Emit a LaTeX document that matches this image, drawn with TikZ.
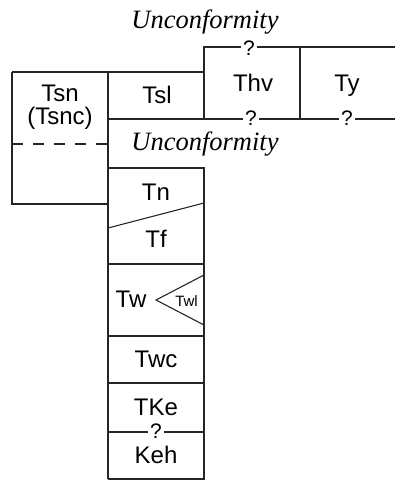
\documentclass[tikz,border=0pt]{standalone}
\usepackage{fontspec}
\setmainfont{Liberation Sans}
\newfontfamily\serifit{Liberation Serif}
\begin{document}
\begin{tikzpicture}[x=1pt,y=-1pt,
  ln/.style={line width=1.1pt, draw=black!85},
  lbl/.style={font=\fontsize{24}{25}\selectfont, inner sep=0pt, anchor=base},
  unc/.style={font=\serifit\itshape\fontsize{26.5}{27}\selectfont, inner sep=0pt, anchor=base},
  qm/.style={font=\fontsize{21}{22}\selectfont, fill=white, inner xsep=2pt, inner ysep=0pt, anchor=base},
  small/.style={font=\fontsize{15}{16}\selectfont, inner sep=0pt, anchor=base}]
\useasboundingbox (0,0) rectangle (395,481);
% coordinates
\coordinate (a1) at (12,72);
\coordinate (a2) at (108,72);
\coordinate (a3) at (204,72);
\coordinate (b1) at (204,47);
\coordinate (b2) at (300,47);
\coordinate (b3) at (395,47);
\coordinate (c1) at (108,119);
\coordinate (c2) at (204,119);
\coordinate (c3) at (300,119);
\coordinate (c4) at (395,119);
\coordinate (d1) at (12,204);
\coordinate (d2) at (108,204);
% upper row
\draw[ln] (a1) -- (a3) -- (b1) -- (b3);
\draw[ln] (a1) -- (d1) -- (d2);
\draw[ln] (a2) -- (108,479);
\draw[ln] (c1) -- (c4);
\draw[ln] (c2) -- (a3);
\draw[ln] (b2) -- (c3);
\draw[ln, dash pattern=on 10.5pt off 10.5pt] (12,144) -- (108,144);
% column
\draw[ln] (108,168) -- (204,168) -- (204,479) -- (108,479);
\draw[ln] (108,228) -- (204,203);
\draw[ln] (108,264) -- (204,264);
\draw[ln] (204,275) -- (156,300) -- (204,325);
\draw[ln] (108,336) -- (204,336);
\draw[ln] (108,383) -- (204,383);
\draw[ln] (108,432) -- (204,432);
% labels
\node[unc] (u1) at (205,29) {Unconformity};
\node[unc] (u2) at (205,150) {Unconformity};
\node[qm] (q1) at (249,56) {?};
\node[qm] (q2) at (251,126) {?};
\node[qm] (q3) at (347,126) {?};
\node[qm] (q4) at (156,438) {?};
\node[lbl] (tsn) at (60,102) {Tsn};
\node[lbl] (tsnc) at (60,125) {(Tsnc)};
\node[lbl] (tsl) at (157,104) {Tsl};
\node[lbl] (thv) at (253,92) {Thv};
\node[lbl] (ty) at (347,92) {Ty};
\node[lbl] (tn) at (156,200) {Tn};
\node[lbl] (tf) at (156,247) {Tf};
\node[lbl] (tw) at (131,307) {Tw};
\node[small] (twl) at (186.5,306) {Twl};
\node[lbl] (twc) at (156,367) {Twc};
\node[lbl] (tke) at (156,415) {TKe};
\node[lbl] (keh) at (156,463) {Keh};
\end{tikzpicture}
\end{document}
